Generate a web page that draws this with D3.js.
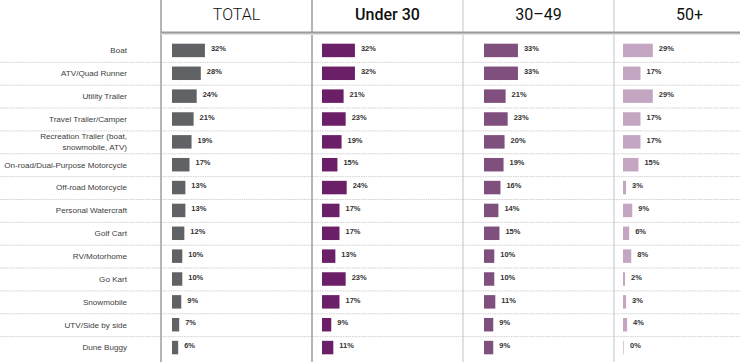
<html>
<head>
<script src="https://d3js.org/d3.v7.min.js"></script>
<style>
  body { margin: 0; background: #fff; }
  .cat { font: 8.1px "Liberation Sans", Arial, sans-serif; fill: #404040; }
  .val { font: bold 7.5px "Liberation Sans", Arial, sans-serif; fill: #333; }
  .head { font-family: Roboto, sans-serif; font-size: 16px; fill: #111; }
</style>
</head>
<body>
<div id="chart"></div>
<script>
// data
const categories = ["Boat", "ATV/Quad Runner", "Utility Trailer", "Travel Trailer/Camper",
  "Recreation Trailer (boat,|snowmobile, ATV)", "On-road/Dual-Purpose Motorcycle", "Off-road Motorcycle",
  "Personal Watercraft", "Golf Cart", "RV/Motorhome", "Go Kart", "Snowmobile", "UTV/Side by side", "Dune Buggy"];
const groups = ["TOTAL", "Under 30", "30\u201349", "50+"];
const total   = [32, 28, 24, 21, 19, 17, 13, 13, 12, 10, 10, 9, 7, 6];
const under30 = [32, 32, 21, 23, 19, 15, 24, 17, 17, 13, 23, 17, 9, 11];
const age3049 = [33, 33, 21, 23, 20, 19, 16, 14, 15, 10, 10, 11, 9, 9];
const age50   = [29, 17, 29, 17, 17, 15, 3, 9, 6, 8, 2, 3, 4, 0];
const series = [total, under30, age3049, age50];

const colors = ["#616265", "#6b1f67", "#7f4f7d", "#c4a6c3"];
const headWeight = [300, 500, 400, 400];
const barInset = [11, 10, 21, 9];

const width = 740, height = 362;

const svg = d3.select("#chart").append("svg")
  .attr("width", width).attr("height", height);

// scales
const col = d3.scaleBand().domain(groups).range([161, 765]);
const row = d3.scaleBand().domain(categories).range([39, 359]);
const x = d3.scaleLinear().domain([0, 35]).range([0, 36]);
const barH = row.bandwidth() * 0.59;

// row separators
svg.append("g").selectAll("line")
  .data(categories.slice(1))
  .join("line")
  .attr("x1", 0).attr("x2", width)
  .attr("y1", d => row(d) + 0.5).attr("y2", d => row(d) + 0.5)
  .attr("stroke", "#d2d2d2").attr("stroke-width", 1)
  .attr("stroke-dasharray", "1.5,0.8");

// vertical column lines
svg.append("g").selectAll("line")
  .data(groups)
  .join("line")
  .attr("x1", d => col(d)).attr("x2", d => col(d))
  .attr("y1", 0).attr("y2", height)
  .attr("stroke", (d, i) => i < 2 ? "#a3a3a3" : "#c0c3cc")
  .attr("stroke-width", (d, i) => i < 2 ? 1.6 : 1);

// header line with a soft shadow
svg.append("line")
  .attr("x1", col(groups[0])).attr("x2", width)
  .attr("y1", 34).attr("y2", 34)
  .attr("stroke", "#e2e2e2").attr("stroke-width", 2);
svg.append("line")
  .attr("x1", col(groups[0])).attr("x2", width)
  .attr("y1", 32.5).attr("y2", 32.5)
  .attr("stroke", "#9a9a9a").attr("stroke-width", 2);

// headers
svg.append("g").selectAll("text")
  .data(groups)
  .join("text")
  .attr("class", "head")
  .attr("x", d => col(d) + col.bandwidth() / 2)
  .attr("y", 19.5)
  .attr("text-anchor", "middle")
  .attr("font-weight", (d, i) => headWeight[i])
  .text(d => d);

// category labels
const cat = svg.append("g").selectAll("text")
  .data(categories)
  .join("text")
  .attr("class", "cat")
  .attr("text-anchor", "end")
  .attr("x", 127)
  .attr("y", d => row(d) + row.bandwidth() / 2);
cat.each(function(d) {
  const parts = d.split("|");
  const t = d3.select(this);
  parts.forEach((p, i) => {
    t.append("tspan")
      .attr("x", 127)
      .attr("dy", i === 0 ? (parts.length > 1 ? "-0.3em" : "0.35em") : "1.3em")
      .text(p);
  });
});

// bars and values
series.forEach((vals, gi) => {
  const g = svg.append("g")
    .attr("transform", `translate(${col(groups[gi]) + barInset[gi]},0)`);
  const data = vals.map((v, i) => ({ cat: categories[i], v }));
  g.selectAll("rect")
    .data(data)
    .join("rect")
    .attr("x", 0)
    .attr("y", d => row(d.cat) + (row.bandwidth() - barH) / 2)
    .attr("width", d => Math.max(1, x(d.v)))
    .attr("height", barH)
    .attr("fill", colors[gi])
    .attr("opacity", d => d.v === 0 ? 0.6 : 1);
  g.selectAll("text")
    .data(data)
    .join("text")
    .attr("class", "val")
    .attr("x", d => Math.max(1, x(d.v)) + 6)
    .attr("y", d => row(d.cat) + row.bandwidth() / 2)
    .attr("dy", "0.1em")
    .text(d => d.v + "%");
});
</script>
</body>
</html>
